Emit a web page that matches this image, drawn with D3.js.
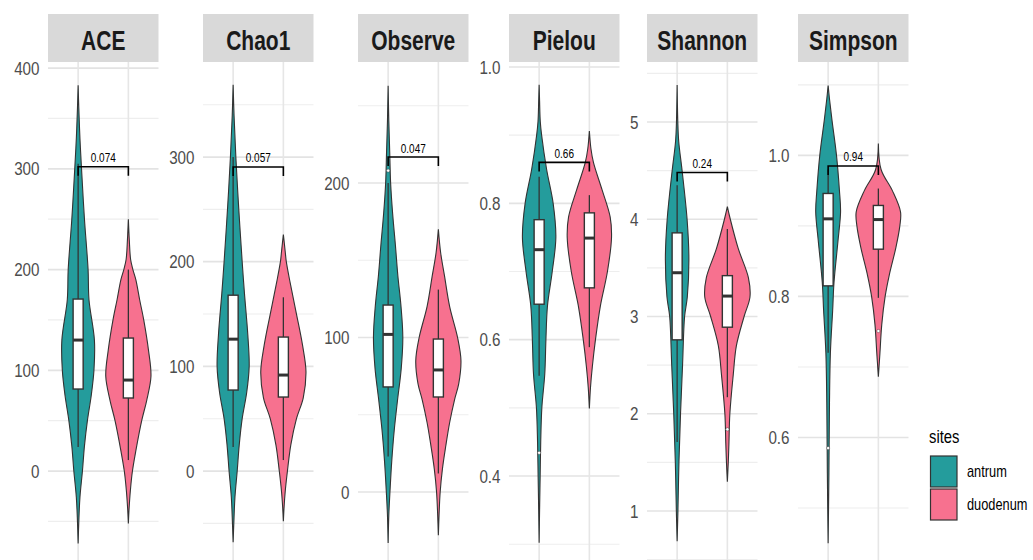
<!DOCTYPE html>
<html>
<head>
<meta charset="utf-8">
<script src="https://cdn.jsdelivr.net/npm/d3@7/dist/d3.min.js"></script>
<style>
  html, body { margin: 0; padding: 0; background: #fff; }
  svg { display: block; }
  text { font-family: "Liberation Sans", Arial, sans-serif; }
</style>
</head>
<body>
<svg id="chart" width="1033" height="560"></svg>
<script>
// ---- data -------------------------------------------------------------
const metrics = ["ACE", "Chao1", "Observe", "Pielou", "Shannon", "Simpson"];
const sites = ["antrum", "duodenum"];
const siteColors = ["#249c9c", "#f7718f"];
const pValues = ["0.074", "0.057", "0.047", "0.66", "0.24", "0.94"];
const bracketY = [302, 290.5, 216.8, 0.86, 4.48, 0.985];

// visible y range of each facet (free scales)
const yLimits = [[-88.3, 406], [-85, 390.8], [-44, 278.3], [0.2768, 1.0073], [0.496, 5.617], [0.4263, 1.1324]];
const majorTicks = [
  [0, 100, 200, 300, 400],
  [0, 100, 200, 300],
  [0, 100, 200],
  [0.4, 0.6, 0.8, 1.0],
  [1, 2, 3, 4, 5],
  [0.6, 0.8, 1.0]
];
const minorTicks = [
  [-50, 50, 150, 250, 350],
  [-50, 50, 150, 250, 350],
  [50, 150, 250],
  [0.3, 0.5, 0.7, 0.9],
  [0.5, 1.5, 2.5, 3.5, 4.5, 5.5],
  [0.5, 0.7, 0.9, 1.1]
];
const tickFormats = ["d", "d", "d", ".1f", "d", ".1f"];

// violin outlines: [value, relative density width]
const violinAntrum = [
  [[383,0],[360,0.03],[330,0.08],[300,0.15],[250,0.28],[200,0.44],[170,0.48],[130,0.72],[100,0.7],[75,0.58],[50,0.41],[25,0.28],[0,0.19],[-26,0.08],[-50,0.03],[-72,0]],
  [[369,0],[340,0.04],[300,0.12],[250,0.25],[200,0.4],[170,0.5],[130,0.65],[100,0.71],[75,0.6],[50,0.4],[25,0.27],[0,0.18],[-25,0.08],[-50,0.03],[-68,0]],
  [[263,0],[240,0.03],[220,0.07],[200,0.11],[180,0.2],[160,0.32],[140,0.43],[120,0.57],[100,0.65],[80,0.58],[60,0.42],[40,0.27],[20,0.16],[0,0.08],[-15,0.03],[-33,0]],
  [[0.974,0],[0.95,0.02],[0.92,0.05],[0.9,0.11],[0.85,0.33],[0.8,0.62],[0.75,0.74],[0.7,0.58],[0.65,0.37],[0.6,0.3],[0.55,0.25],[0.5,0.12],[0.45,0.07],[0.4,0.045],[0.35,0.02],[0.302,0]],
  [[5.38,0],[5.0,0.03],[4.8,0.07],[4.5,0.22],[4.0,0.44],[3.6,0.52],[3.2,0.45],[3.0,0.33],[2.5,0.24],[2.0,0.15],[1.5,0.08],[1.0,0.035],[0.69,0]],
  [[1.099,0],[1.08,0.06],[1.05,0.17],[1.0,0.37],[0.95,0.5],[0.92,0.55],[0.88,0.44],[0.82,0.26],[0.78,0.2],[0.72,0.1],[0.65,0.06],[0.55,0.035],[0.45,0]]
];
const violinDuodenum = [
  [[250,0],[230,0.04],[210,0.1],[200,0.2],[190,0.33],[170,0.5],[150,0.68],[120,0.89],[94,1.0],[70,0.81],[50,0.59],[20,0.33],[0,0.18],[-19,0.09],[-38,0.03],[-52,0]],
  [[226,0],[210,0.08],[200,0.13],[180,0.3],[150,0.58],[120,0.85],[95,1.0],[70,0.88],[50,0.58],[25,0.33],[0,0.18],[-20,0.08],[-35,0.03],[-48,0]],
  [[170,0],[155,0.1],[140,0.27],[120,0.5],[100,0.85],[85,1.0],[70,0.9],[60,0.72],[45,0.5],[30,0.33],[15,0.18],[0,0.08],[-15,0.03],[-28,0]],
  [[0.906,0],[0.88,0.07],[0.86,0.18],[0.82,0.56],[0.78,0.92],[0.75,0.98],[0.7,0.8],[0.65,0.49],[0.6,0.27],[0.56,0.13],[0.53,0.05],[0.499,0]],
  [[4.13,0],[4.0,0.13],[3.7,0.48],[3.4,0.93],[3.2,1.0],[3.0,0.74],[2.7,0.4],[2.4,0.26],[2.0,0.11],[1.7,0.07],[1.5,0.04],[1.3,0]],
  [[1.017,0],[0.98,0.12],[0.95,0.62],[0.92,0.98],[0.9,0.95],[0.87,0.78],[0.83,0.48],[0.8,0.3],[0.76,0.15],[0.72,0.07],[0.686,0]]
];

// box statistics: [lower whisker, q1, median, q3, upper whisker]
const boxAntrum = [
  [23.8, 81.4, 130, 170.7, 305],
  [23, 77.4, 126, 168, 300],
  [23, 68, 102, 121, 200],
  [0.547, 0.652, 0.732, 0.776, 0.839],
  [1.71, 2.76, 3.45, 3.86, 4.35],
  [0.72, 0.815, 0.91, 0.946, 0.98]
];
const boxDuodenum = [
  [10.9, 72.5, 90.3, 132, 200],
  [10.5, 70.7, 91.7, 128, 166],
  [12, 61.5, 79, 99, 131],
  [0.589, 0.676, 0.749, 0.786, 0.812],
  [2.17, 2.89, 3.21, 3.42, 3.9],
  [0.798, 0.867, 0.909, 0.929, 0.953]
];
const outliersAntrum = [[], [], [208], [0.434], [], [0.585]];
const outliersDuodenum = [[], [], [], [], [1.84], [0.751]];

// ---- layout -----------------------------------------------------------
const W = 1033, H = 560;
const panelLeft = [48, 203, 358, 509, 647, 798];
const panelWidth = 110.5;
const stripTop = 14, stripBottom = 62, panelBottom = 560;
const textSX = 0.8;        // horizontally condensed lettering
const stripSX = 0.75;
const ink = "#333333";

const svg = d3.select("#chart");
svg.append("rect").attr("width", W).attr("height", H).attr("fill", "#fff");

function label(g, x, y, str, opts) {
  const t = g.append("text")
    .attr("transform", `translate(${x},${y}) scale(${opts.sx || textSX},1)`)
    .attr("text-anchor", opts.anchor || "start")
    .attr("font-size", opts.size)
    .attr("fill", opts.fill || "#000")
    .text(str);
  if (opts.weight) t.attr("font-weight", opts.weight);
  if (opts.baseline) t.attr("dominant-baseline", opts.baseline);
  return t;
}

metrics.forEach((m, i) => {
  const g = svg.append("g");
  const left = panelLeft[i], right = left + panelWidth;

  const y = d3.scaleLinear().domain(yLimits[i]).range([panelBottom, stripBottom]);
  const x = d3.scalePoint().domain(sites).range([left, right]).padding(0.6);
  const step = x.step();
  const wScale = d3.scaleLinear().domain([0, 1]).range([0, 0.45 * step]);

  // strip
  g.append("rect").attr("x", left).attr("y", stripTop)
    .attr("width", panelWidth).attr("height", stripBottom - stripTop)
    .attr("fill", "#d9d9d9");
  label(g, (left + right) / 2, 50, m, { size: 28, weight: "bold", anchor: "middle", sx: stripSX, fill: "#1a1a1a" });

  // grid
  g.selectAll(".minor").data(minorTicks[i]).join("line")
    .attr("x1", left).attr("x2", right)
    .attr("y1", d => y(d)).attr("y2", d => y(d))
    .attr("stroke", "#eeeeee").attr("stroke-width", 1.1);
  g.selectAll(".major").data(majorTicks[i]).join("line")
    .attr("x1", left).attr("x2", right)
    .attr("y1", d => y(d)).attr("y2", d => y(d))
    .attr("stroke", "#e3e3e3").attr("stroke-width", 1.7);
  sites.forEach(s => {
    g.append("line").attr("x1", x(s)).attr("x2", x(s))
      .attr("y1", stripBottom).attr("y2", panelBottom)
      .attr("stroke", "#e6e6e6").attr("stroke-width", 1.6);
  });

  // y tick labels
  const fmt = d3.format(tickFormats[i]);
  majorTicks[i].forEach(v => {
    label(g, left - 8.5, y(v), fmt(v), { size: 19, anchor: "end", baseline: "central", fill: "#4d4d4d" });
  });

  // violins + boxes
  const profiles = [violinAntrum[i], violinDuodenum[i]];
  const boxes = [boxAntrum[i], boxDuodenum[i]];
  const outs = [outliersAntrum[i], outliersDuodenum[i]];
  sites.forEach((s, k) => {
    const cx = x(s);
    const area = d3.area()
      .y(d => y(d[0]))
      .x0(d => cx - wScale(d[1]))
      .x1(d => cx + wScale(d[1]))
      .curve(d3.curveCatmullRom.alpha(0.5));
    g.append("path").attr("d", area(profiles[k]))
      .attr("fill", siteColors[k]).attr("stroke", ink).attr("stroke-width", 1.1);

    const [lo, q1, med, q3, hi] = boxes[k];
    const bw = 0.2 * step;
    g.append("line").attr("x1", cx).attr("x2", cx).attr("y1", y(hi)).attr("y2", y(q3))
      .attr("stroke", ink).attr("stroke-width", 1.3);
    g.append("line").attr("x1", cx).attr("x2", cx).attr("y1", y(q1)).attr("y2", y(lo))
      .attr("stroke", ink).attr("stroke-width", 1.3);
    g.append("rect").attr("x", cx - bw / 2).attr("y", y(q3))
      .attr("width", bw).attr("height", y(q1) - y(q3))
      .attr("fill", "#fff").attr("stroke", ink).attr("stroke-width", 1.4);
    g.append("line").attr("x1", cx - bw / 2).attr("x2", cx + bw / 2)
      .attr("y1", y(med)).attr("y2", y(med))
      .attr("stroke", ink).attr("stroke-width", 3);
    outs[k].forEach(o => {
      g.append("circle").attr("cx", cx).attr("cy", y(o)).attr("r", 1.6)
        .attr("fill", "#fff").attr("stroke", ink).attr("stroke-width", 0.4);
    });
  });

  // significance bracket
  const by = y(bracketY[i]);
  const x1 = x(sites[0]), x2 = x(sites[1]);
  const tick = 9;
  g.append("path")
    .attr("d", `M${x1},${by + tick}V${by}H${x2}V${by + tick}`)
    .attr("fill", "none").attr("stroke", "#000").attr("stroke-width", 1.6);
  label(g, (x1 + x2) / 2, by - 4.5, pValues[i], { size: 12.5, anchor: "middle" });
});

// legend
const lg = svg.append("g");
label(lg, 929, 443, "sites", { size: 18.5, fill: "#000" });
sites.forEach((s, k) => {
  const top = 456 + k * 33;
  lg.append("rect").attr("x", 930.5).attr("y", top)
    .attr("width", 26.5).attr("height", 31)
    .attr("fill", siteColors[k]).attr("stroke", ink).attr("stroke-width", 1.2);
  label(lg, 967, top + 15.5, s, { size: 16, baseline: "central" });
});
</script>
</body>
</html>
